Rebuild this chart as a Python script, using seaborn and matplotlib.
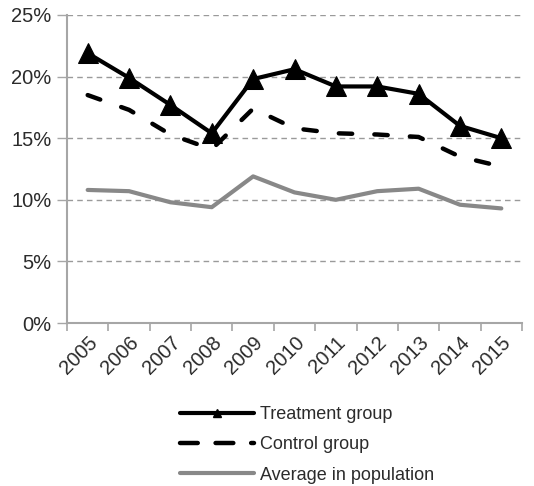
import matplotlib
matplotlib.use("Agg")
import matplotlib.pyplot as plt
from matplotlib.lines import Line2D
from matplotlib.ticker import FixedLocator, PercentFormatter
import seaborn as sns
import pandas as pd

years = ["2005", "2006", "2007", "2008", "2009", "2010",
         "2011", "2012", "2013", "2014", "2015"]
treatment = [21.9, 19.9, 17.7, 15.4, 19.8, 20.6, 19.2, 19.2, 18.6, 16.0, 15.0]
control = [18.5, 17.3, 15.3, 14.1, 17.4, 15.8, 15.4, 15.3, 15.1, 13.5, 12.7]
population = [10.8, 10.7, 9.8, 9.4, 11.9, 10.6, 10.0, 10.7, 10.9, 9.6, 9.3]
series_names = ["Treatment group", "Control group", "Average in population"]
y_ticks = [0, 5, 10, 15, 20, 25]

sns.set_theme(style="white")
plt.rcParams["font.family"] = ["Liberation Sans", "DejaVu Sans"]

df = pd.DataFrame({
    "pos": list(range(len(years))) * 3,
    "value": treatment + control + population,
    "series": [s for s in series_names for _ in years],
})

fig = plt.figure(figsize=(5.34, 4.86), dpi=100)
ax = fig.add_axes([67 / 534, 1 - 323 / 486, 455 / 534, 308 / 486])

gray_line = "#888888"
text_col = "#2b2b2b"
axis_col = "#a6a6a6"

# population average (drawn first so it sits underneath)
sns.lineplot(data=df[df.series == series_names[2]], x="pos", y="value",
             color=gray_line, linewidth=3.0, ax=ax, legend=False)
# control group, dashed
sns.lineplot(data=df[df.series == series_names[1]], x="pos", y="value",
             color="black", linewidth=3.2, ax=ax, legend=False)
ctrl_line = ax.lines[-1]
ctrl_line.set_linestyle((0, (3, 5)))
ctrl_line.set_dash_capstyle("round")
# treatment group with triangle markers
sns.lineplot(data=df[df.series == series_names[0]], x="pos", y="value",
             color="black", linewidth=3.0, marker="^", markersize=14.5,
             markeredgecolor="black", ax=ax, legend=False)

ax.set_xlim(-0.5, len(years) - 0.5)
ax.set_ylim(0, 25)
ax.yaxis.set_major_locator(FixedLocator(y_ticks))
ax.yaxis.set_major_formatter(PercentFormatter(decimals=0))
ax.grid(axis="y", color="#9a9a9a", linestyle=(0, (4, 3)), linewidth=1.0)
ax.set_axisbelow(True)

ax.set_xticks(range(len(years)))
ax.set_xticklabels(years, rotation=45, ha="right", rotation_mode="anchor",
                   fontsize=14.5, color=text_col)
ax.set_xticks([i - 0.5 for i in range(len(years) + 1)], minor=True)
ax.tick_params(axis="x", which="major", length=0, pad=7)
ax.tick_params(axis="x", which="minor", length=6, width=1.2,
               color=axis_col, direction="out", bottom=True)
ax.tick_params(axis="y", length=7, width=1.0, color=axis_col,
               labelsize=14.5, labelcolor=text_col, pad=4, left=True)

for side in ("top", "right"):
    ax.spines[side].set_visible(False)
for side in ("left", "bottom"):
    ax.spines[side].set_color(axis_col)
    ax.spines[side].set_linewidth(1.5)

ax.set_xlabel("")
ax.set_ylabel("")

handles = [
    Line2D([], [], color="black", linewidth=3.0, marker="^", markersize=6),
    Line2D([], [], color="black", linewidth=3.2, linestyle=(0, (4, 4)),
           dash_capstyle="round"),
    Line2D([], [], color=gray_line, linewidth=3.0),
]
fig.legend(handles, series_names, loc="upper left",
           bbox_to_anchor=(180 / 534, 1 - 406 / 486), frameon=False,
           fontsize=13, handlelength=4.1, handletextpad=0.35,
           labelspacing=0.74, borderpad=0, borderaxespad=0,
           labelcolor=text_col)

fig.savefig("out.png", dpi=100)
